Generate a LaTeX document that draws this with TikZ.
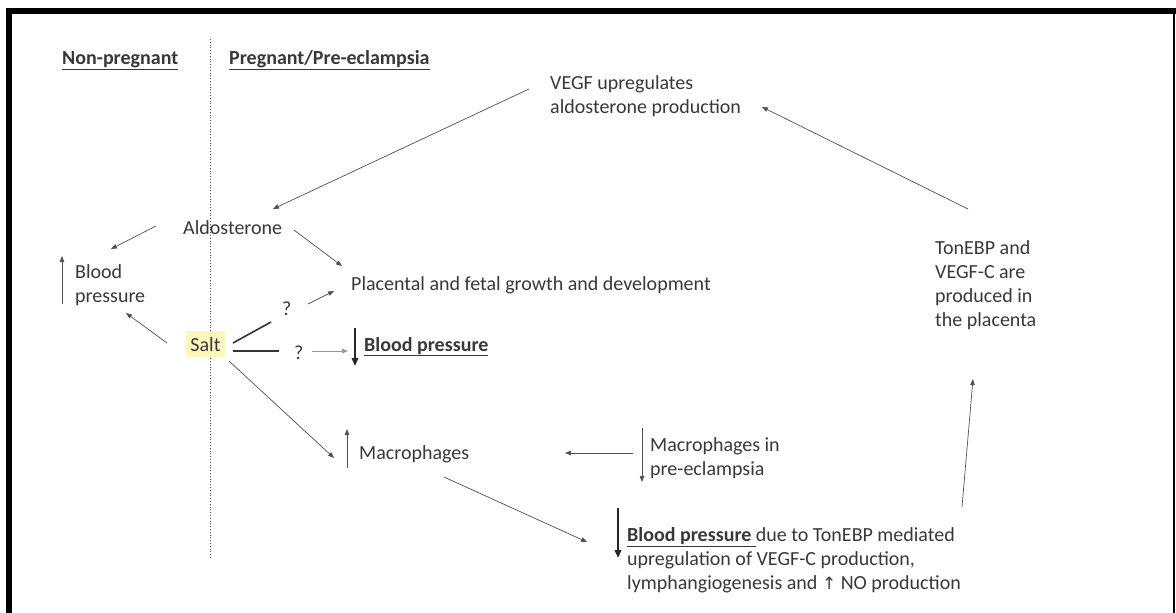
\documentclass[tikz,border=0pt]{standalone}
\usepackage{fontspec}
\setmainfont{Carlito}
\newfontfamily\symfont{DejaVu Sans}
\usetikzlibrary{arrows.meta}
\definecolor{txt}{HTML}{383838}
\definecolor{arr}{HTML}{505050}
\definecolor{hl}{HTML}{FFF6BE}
\begin{document}
\begin{tikzpicture}[x=1pt,y=-1pt,
  lbl/.style={inner sep=0pt, anchor=base west, text=txt, font=\fontsize{20}{24}\selectfont, align=left},
  mlbl/.style={lbl, anchor=north west},
  hd/.style={lbl, font=\fontsize{20}{24}\selectfont\bfseries},
  conn/.style={draw=arr, line width=0.7pt, -{Triangle[length=6pt,width=4.5pt]}},
  thick conn/.style={draw=black!85, line width=2.4pt, -{Triangle[length=8pt,width=6.5pt]}},
  bar/.style={draw=black!80, line width=1.6pt},
  frame/.style={draw=black}]
\useasboundingbox (0,0) rectangle (1176,613);
% frame
\draw[frame, line width=6pt] (9,613) -- (9,11) -- (1176,11);
\draw[frame, line width=2.5pt] (1174,11) -- (1174,613);
% divider
\draw[black!70, line width=0.8pt, dotted] (210,39) -- (210,559);
% headings
\node[hd] (np) at (62,64) {\underline{Non-pregnant}};
\node[hd] (pe) at (229,64) {\underline{Pregnant/Pre-eclampsia}};
% text nodes
\node[mlbl] (vegf) at (550,75.5) {VEGF upregulates\\aldosterone production};
\node[lbl] (aldo) at (183,234) {Aldosterone};
\node[mlbl] (bpl) at (75,264.5) {Blood\\pressure};
\node[lbl] (plac) at (351,290) {Placental and fetal growth and development};
\node[lbl] (q1) at (282,315) {?};
\node[lbl, anchor=base, fill=hl, inner xsep=4pt, inner ysep=6pt] (salt) at (205.5,351) {Salt};
\node[lbl] (q2) at (294,359) {?};
\node[lbl] (bpm) at (364,351) {\underline{\textbf{Blood pressure}}};
\node[lbl] (mac) at (359,459) {Macrophages};
\node[mlbl] (macpe) at (650,437.5) {Macrophages in\\pre-eclampsia};
\node[mlbl] (ton) at (935,240.5) {TonEBP and\\VEGF-C are\\produced in\\the placenta};
\node[mlbl] (bpb) at (627,527.5) {\underline{\textbf{Blood pressure }}due to TonEBP mediated\\upregulation of VEGF-C production,\\lymphangiogenesis and {\symfont\fontsize{17}{24}\selectfont ↑} NO production};
% connectors
\draw[conn] ([shift={(-21,13.5)}]vegf.north west) -- ([shift={(90,-25)}]aldo.base west);
\draw[conn] ([shift={(-27,-8)}]aldo.base west) -- ([shift={(36,-15.5)}]bpl.north west);
\draw[conn] ([shift={(111,-4)}]aldo.base west) -- ([shift={(-9,-24)}]plac.base west);
\draw[conn] ([shift={(-13,39.5)}]bpl.north west) -- ([shift={(-13,-8.5)}]bpl.north west);
\draw[conn] ([shift={(-38.5,-8)}]salt.base) -- ([shift={(51,48.5)}]bpl.north west);
\draw[bar] ([shift={(27.5,-8)}]salt.base) -- ([shift={(-11,7)}]q1.base west);
\draw[conn] ([shift={(26,-11)}]q1.base west) -- ([shift={(-17,1)}]plac.base west);
\draw[bar] ([shift={(27.5,0)}]salt.base) -- ([shift={(-15,-8)}]q2.base west);
\draw[conn, draw=arr!60] ([shift={(18,-8)}]q2.base west) -- ([shift={(-16,0)}]bpm.base west);
\draw[thick conn] ([shift={(-9,-23)}]bpm.base west) -- ([shift={(-9,15)}]bpm.base west);
\draw[conn] ([shift={(23.5,10)}]salt.base) -- ([shift={(-25,-1)}]mac.base west);
\draw[conn] ([shift={(-12,9)}]mac.base west) -- ([shift={(-12,-30)}]mac.base west);
\draw[conn] ([shift={(-17,15.5)}]macpe.north west) -- ([shift={(206,-6)}]mac.base west);
\draw[conn] ([shift={(-8,-9.5)}]macpe.north west) -- ([shift={(-8,44.5)}]macpe.north west);
\draw[conn] ([shift={(85,18)}]mac.base west) -- ([shift={(-40,14.5)}]bpb.north west);
\draw[thick conn] ([shift={(-9,-19.5)}]bpb.north west) -- ([shift={(-9,30.5)}]bpb.north west);
\draw[conn] ([shift={(335,-20.5)}]bpb.north west) -- ([shift={(38,138.5)}]ton.north west);
\draw[conn] ([shift={(33,-31.5)}]ton.north west) -- ([shift={(212,31.5)}]vegf.north west);
\end{tikzpicture}
\end{document}
